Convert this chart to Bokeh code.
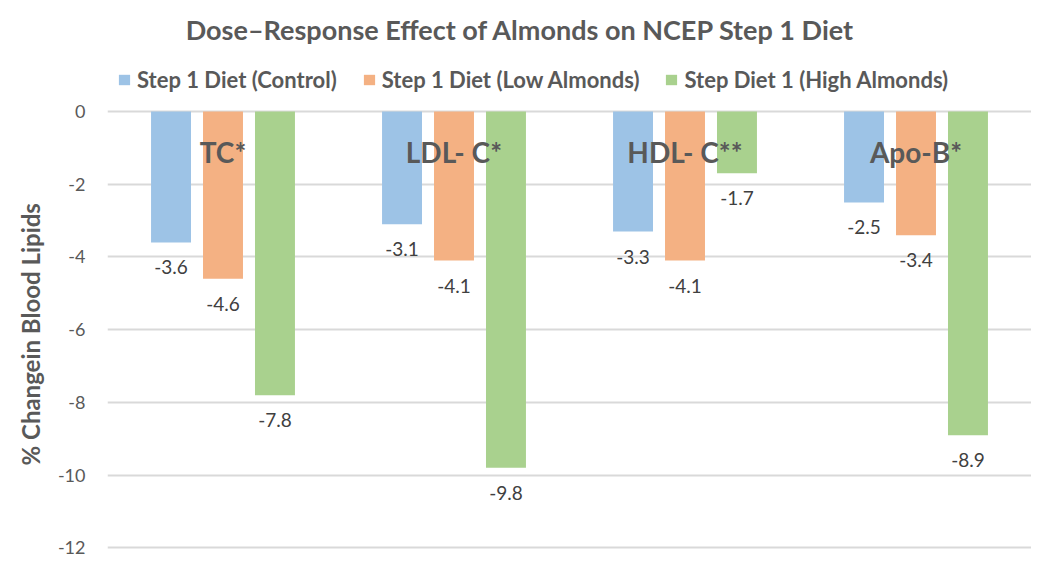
from bokeh.plotting import figure
from bokeh.models import ColumnDataSource, FactorRange, Range1d, FixedTicker, Legend, LegendItem, Label, Title
from bokeh.transform import dodge
from bokeh.core.properties import value
from bokeh.embed import file_html
from bokeh.resources import INLINE

categories = ["TC*", "LDL- C*", "HDL- C**", "Apo-B*"]
series_names = ["Step 1 Diet (Control)", "Step 1 Diet (Low Almonds)", "Step Diet 1 (High Almonds)"]
control = [-3.6, -3.1, -3.3, -2.5]
low_almonds = [-4.6, -4.1, -4.1, -3.4]
high_almonds = [-7.8, -9.8, -1.7, -8.9]
y_ticks = [0, -2, -4, -6, -8, -10, -12]
y_tick_labels = ["0", "-2", "-4", "-6", "-8", "-10", "-12"]
title_text = "Dose\u2013Response Effect of Almonds on NCEP Step 1 Diet"
y_label = "% Changein Blood Lipids"

colors = ["#9DC3E6", "#F4B183", "#A9D18E"]
FONT = "Lato"
GRAY = "#595959"

# layout (pixels)
W, H = 1031, 559
LEFT, BOTTOM = 107, 8
ZERO_PX = 111            # pixel row of the 0 line from the canvas top
frame_h = H - BOTTOM
y_lo = -12.1
y_top = -y_lo * ZERO_PX / (frame_h - ZERO_PX)   # range end above 0 holding title & legend

def fmt(v):
    return "%.1f" % v

src = ColumnDataSource(dict(
    cat=categories,
    control=control, low=low_almonds, high=high_almonds,
    control_lbl=[fmt(v) for v in control],
    low_lbl=[fmt(v) for v in low_almonds],
    high_lbl=[fmt(v) for v in high_almonds],
))

p = figure(width=W, height=H, output_backend="svg", toolbar_location=None,
           x_range=FactorRange(*categories, range_padding=0),
           y_range=Range1d(y_lo, y_top),
           min_border_left=LEFT, min_border_right=0, min_border_top=0, min_border_bottom=BOTTOM)
p.outline_line_color = None
p.background_fill_color = "white"
p.border_fill_color = "white"

p.xaxis.visible = False
p.xgrid.grid_line_color = None
p.ygrid.grid_line_color = "#D9D9D9"
p.ygrid.grid_line_width = 2
p.yaxis.ticker = FixedTicker(ticks=y_ticks)
p.yaxis.major_label_overrides = {t: l for t, l in zip(y_ticks, y_tick_labels)}
p.yaxis.axis_line_color = None
p.yaxis.major_tick_line_color = None
p.yaxis.minor_tick_line_color = None
p.yaxis.major_tick_out = 0
p.yaxis.major_tick_in = 0
p.yaxis.major_label_standoff = 22
p.yaxis.major_label_text_font = FONT
p.yaxis.major_label_text_font_size = "18px"
p.yaxis.major_label_text_color = GRAY

# y-axis title as a side title, placed along the 0..-12 span
ytitle = Title(text=y_label, align="left", offset=86, standoff=19,
               text_font=FONT, text_font_size="24px", text_font_style="bold", text_color=GRAY)
p.add_layout(ytitle, "left")

offsets = [-0.225, 0.0, 0.225]
cols = ["control", "low", "high"]
renderers = []
for off, col, c in zip(offsets, cols, colors):
    r = p.vbar(x=dodge("cat", off, range=p.x_range), top=col, bottom=0, width=0.173,
               source=src, fill_color=c, line_color=None)
    renderers.append(r)
    p.text(x=dodge("cat", off, range=p.x_range), y=col, text=col + "_lbl", source=src,
           y_offset=25, text_align="center", text_baseline="middle",
           text_font=value(FONT), text_font_size="19px", text_color="#404040")

# category labels inside plot
p.text(x="cat", y=0, text="cat", source=src, y_offset=40,
       text_align="center", text_baseline="middle",
       text_font=value(FONT), text_font_size="28px", text_font_style="bold", text_color=GRAY)

legend = Legend(items=[LegendItem(label=n, renderers=[r]) for n, r in zip(series_names, renderers)],
                orientation="horizontal", location=(10, frame_h - 93),
                border_line_color=None, background_fill_alpha=0,
                label_text_font=FONT, label_text_font_size="22px", label_text_font_style="bold",
                label_text_color=GRAY, glyph_width=14, glyph_height=13, label_standoff=6,
                spacing=25, padding=0, margin=0)
p.add_layout(legend, "center")

title = Label(x=413, y=frame_h - 29, x_units="screen", y_units="screen",
              text=title_text, text_align="center", text_baseline="middle",
              text_font=FONT, text_font_size="27px", text_font_style="bold", text_color=GRAY)
p.add_layout(title)

open("out.html", "w").write(file_html(p, INLINE))
